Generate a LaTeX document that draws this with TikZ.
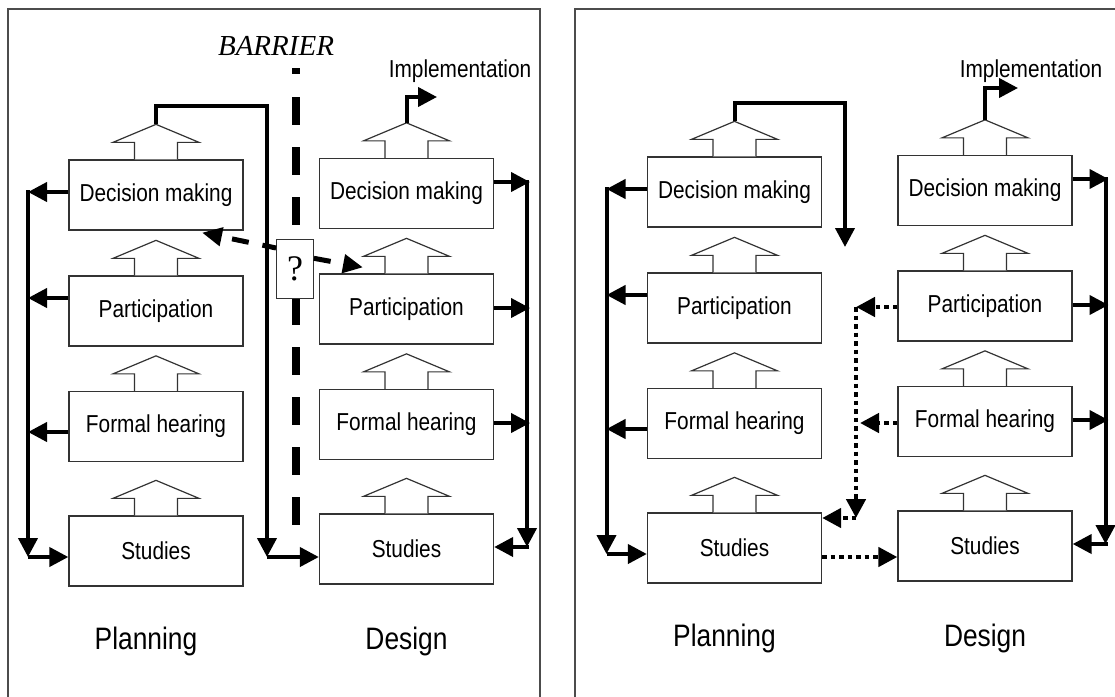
\documentclass[tikz,border=0pt]{standalone}
\usepackage{fontspec}
\setmainfont{Liberation Sans}
\newfontfamily\lab{Liberation Sans}[FakeStretch=0.85]
\newfontfamily\serifface{Liberation Serif}
\usetikzlibrary{arrows.meta,calc}

\tikzset{
  blockup/.pic={\draw[line width=1.2pt,draw=black!80,fill=white]
     (-21.5,0) -- (-21.5,-17) -- (-43,-17) -- (0,-35) -- (43,-17) -- (21.5,-17) -- (21.5,0);},
}

\begin{document}
\begin{tikzpicture}[x=1pt,y=-1pt,
  stagebox/.style={draw=black!80,line width=1.3pt,fill=white,minimum width=174pt,
    minimum height=70pt,inner sep=0pt,font=\lab\fontsize{24.5}{28}\selectfont},
  phase/.style={inner sep=0pt,anchor=base,font=\lab\fontsize{31}{35}\selectfont},
  toplabel/.style={inner sep=0pt,anchor=base,font=\lab\fontsize{24.5}{28}\selectfont},
  panel/.style={draw=black!70,line width=1.5pt},
  arr/.style={line width=4pt,-{Triangle[length=19pt,width=19pt]}},
  dasharr/.style={line width=5pt,dash pattern=on 17pt off 14pt,-{Triangle[length=20pt,width=18pt]}},
  dotarr/.style={line width=4.5pt,dash pattern=on 4.5pt off 4pt,-{Triangle[length=19pt,width=19pt]}},
  barrier/.style={line width=8pt},
]
\useasboundingbox (0,0) rectangle (1115,696);
\clip (0,0) rectangle (1115,696);

% ---------------- panel frames ----------------
\draw[panel] (8,725) -- (8,9) -- (540,9) -- (540,725);
\draw[panel] (575,725) -- (575,9) -- (1130,9);

% ================= first panel =================
\node[stagebox] (pDM) at (156,195)   {Decision making};
\node[stagebox] (pP)  at (156,311)   {Participation};
\node[stagebox] (pFH) at (156,426.5) {Formal hearing};
\node[stagebox] (pS)  at (156,551)   {Studies};
\node[stagebox] (dDM) at (406.5,193.5) {Decision making};
\node[stagebox] (dP)  at (406.5,309)   {Participation};
\node[stagebox] (dFH) at (406.5,424.5) {Formal hearing};
\node[stagebox] (dS)  at (406.5,549)   {Studies};
\foreach \b in {pDM,pP,pFH,pS,dDM,dP,dFH,dS} \pic at (\b.north) {blockup};

\node[phase] (plA) at (146,649) {Planning};
\node[phase] (deA) at (406.5,649) {Design};
\node[toplabel] (imA) at (460,77) {Implementation};
\node[inner sep=0pt,anchor=base,font=\serifface\itshape\fontsize{29}{33}\selectfont] (barA) at (276,55) {BARRIER};

% barrier line
\coordinate (b0) at (296,68);
\coordinate (b1) at (296,74);
\coordinate (b2) at (296,97);
\coordinate (b3) at (296,528);
\draw[barrier] (b0) -- (b1);
\draw[barrier,dash pattern=on 28pt off 22pt] (b2) -- (b3);

% question box on the barrier
\node[draw=black!80,line width=1.3pt,fill=white,minimum width=36.5pt,minimum height=59pt,
  inner sep=0pt,font=\serifface\fontsize{36}{40}\selectfont] (qm) at (295,268.8) {?};

% planning feedback spine
\coordinate (ls1) at (28,192);
\coordinate (ls2) at (28,298);
\coordinate (ls3) at (28,432);
\coordinate (ls4) at (28,557);
\draw[arr] (pDM.west |- ls1) -- (ls1);
\draw[arr] (pP.west |- ls2) -- (ls2);
\draw[arr] (pFH.west |- ls3) -- (ls3);
\draw[arr] ([yshift=2pt]ls1) -- (ls4);
\draw[arr] (ls4) -- (pS.west |- ls4);

% planning decision over to design studies
\coordinate (tc1) at (267,106);
\coordinate (tc2) at (267,557);
\draw[arr] ([yshift=35pt]pDM.north) |- (tc1) -- (tc2);
\draw[arr] (tc2) -- (dS.west |- tc2);

% design feedback spine
\coordinate (rs1) at (527,182);
\coordinate (rs2) at (527,308);
\coordinate (rs3) at (527,423);
\coordinate (rs4) at (527,547);
\draw[arr] (dDM.east |- rs1) -- ([xshift=3pt]rs1);
\draw[arr] (dP.east |- rs2) -- ([xshift=3pt]rs2);
\draw[arr] (dFH.east |- rs3) -- ([xshift=3pt]rs3);
\draw[arr] ([yshift=2pt]rs1) -- (rs4);
\draw[arr] ([xshift=2pt]rs4) -- (dS.east |- rs4);

% implementation
\coordinate (im1) at (437,97);
\draw[arr] ([yshift=35pt]dDM.north) |- (im1);

% uncertain links across the barrier
\draw[dasharr,dash phase=3pt] ([yshift=20.8pt]qm.west) -- ([xshift=46pt,yshift=-2pt]pDM.south);
\draw[dasharr,dash phase=0pt] ([yshift=10.5pt]qm.east) -- ([xshift=-43.5pt,yshift=6pt]dP.north);

% ================= second panel =================
\node[stagebox] (qDM) at (734.5,192)   {Decision making};
\node[stagebox] (qP)  at (734.5,308)   {Participation};
\node[stagebox] (qFH) at (734.5,423.5) {Formal hearing};
\node[stagebox] (qS)  at (734.5,548)   {Studies};
\node[stagebox] (eDM) at (985,190.5) {Decision making};
\node[stagebox] (eP)  at (985,306)   {Participation};
\node[stagebox] (eFH) at (985,421.5) {Formal hearing};
\node[stagebox] (eS)  at (985,546)   {Studies};
\foreach \b in {qDM,qP,qFH,qS,eDM,eP,eFH,eS} \pic at (\b.north) {blockup};

\node[phase] (plB) at (724.5,646) {Planning};
\node[phase] (deB) at (985,646) {Design};
\node[toplabel] (imB) at (1031,77) {Implementation};

% planning feedback spine
\coordinate (ms1) at (606.5,189);
\coordinate (ms2) at (606.5,295);
\coordinate (ms3) at (606.5,429);
\coordinate (ms4) at (606.5,554);
\draw[arr] (qDM.west |- ms1) -- (ms1);
\draw[arr] (qP.west |- ms2) -- (ms2);
\draw[arr] (qFH.west |- ms3) -- (ms3);
\draw[arr] ([yshift=2pt]ms1) -- (ms4);
\draw[arr] (ms4) -- (qS.west |- ms4);

% planning decision output
\coordinate (uc1) at (845,103);
\coordinate (uc2) at (845,247);
\draw[arr] ([yshift=35pt]qDM.north) |- (uc1) -- (uc2);

% design feedback spine
\coordinate (ns1) at (1105.5,179);
\coordinate (ns2) at (1105.5,305);
\coordinate (ns3) at (1105.5,420);
\coordinate (ns4) at (1105.5,544);
\draw[arr] (eDM.east |- ns1) -- ([xshift=3pt]ns1);
\draw[arr] (eP.east |- ns2) -- ([xshift=3pt]ns2);
\draw[arr] (eFH.east |- ns3) -- ([xshift=3pt]ns3);
\draw[arr] ([yshift=2pt]ns1) -- (ns4);
\draw[arr] ([xshift=2pt]ns4) -- (eS.east |- ns4);

% implementation
\coordinate (im2) at (1018,88);
\draw[arr] ([yshift=35pt]eDM.north) |- (im2);

% dotted links from design back to planning studies
\coordinate (dv1) at (856,307);
\coordinate (dv2) at (856,518);
\coordinate (dfh) at (860,423);
\coordinate (dss) at (860,557);
\draw[dotarr] (eP.west |- dv1) -- (dv1);
\draw[dotarr] (dv1) -- (dv2);
\draw[dotarr] (dv2) -- (qS.east |- dv2);
\draw[dotarr] (eFH.west |- dfh) -- (dfh);
\draw[dotarr] (qS.east |- dss) -- (eS.west |- dss);
\end{tikzpicture}
\end{document}
